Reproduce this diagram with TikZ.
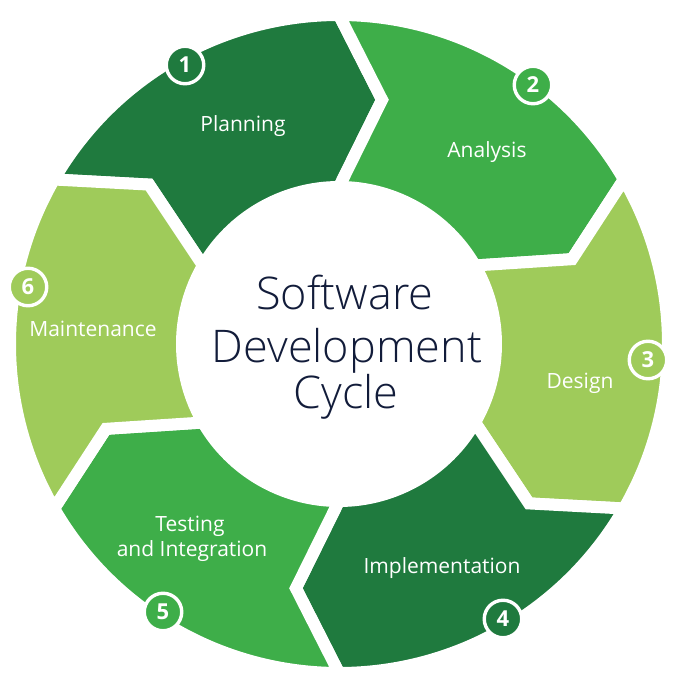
\documentclass[tikz,border=0pt]{standalone}
\usepackage{fontspec}
\setmainfont{Open Sans}
\IfFontExistsTF{Open Sans Light}{\newfontfamily\thinfont{Open Sans Light}}{\newfontfamily\thinfont{Open Sans}}
\definecolor{dkgreen}{RGB}{31,122,62}
\definecolor{mdgreen}{RGB}{62,174,73}
\definecolor{ltgreen}{RGB}{159,203,90}
\definecolor{navy}{RGB}{18,28,58}
\tikzset{
	seg/.style={draw=white, line width=12pt},
	numdot/.style={circle, draw=white, line width=3.4pt, minimum size=37.5pt, inner sep=0pt, text=white, font=\fontsize{22}{22}\selectfont\bfseries},
	lab/.style={text=white, anchor=base, font=\fontsize{21}{25}\selectfont},
	ttl/.style={text=navy, anchor=base, font=\thinfont\fontsize{45}{50}\selectfont},
}
\begin{document}
\begin{tikzpicture}[x=1pt, y=1pt]
		\useasboundingbox (-339, -344) rectangle (341, 344);
		\fill[white] (-339, -344) rectangle (341, 344);
		\filldraw[seg, fill=dkgreen] (150:157) -- (140:248) -- (150:329) arc[start angle=150, end angle=90, radius=329]
			-- (80:248) -- (90:157) arc[start angle=90, end angle=150, radius=157] -- cycle;
		\filldraw[seg, fill=mdgreen] (90:157) -- (80:248) -- (90:329) arc[start angle=90, end angle=30, radius=329]
			-- (20:248) -- (30:157) arc[start angle=30, end angle=90, radius=157] -- cycle;
		\filldraw[seg, fill=ltgreen] (30:157) -- (20:248) -- (30:329) arc[start angle=30, end angle=-30, radius=329]
			-- (-40:248) -- (-30:157) arc[start angle=-30, end angle=30, radius=157] -- cycle;
		\filldraw[seg, fill=dkgreen] (-30:157) -- (-40:248) -- (-30:329) arc[start angle=-30, end angle=-90, radius=329]
			-- (-100:248) -- (-90:157) arc[start angle=-90, end angle=-30, radius=157] -- cycle;
		\filldraw[seg, fill=mdgreen] (-90:157) -- (-100:248) -- (-90:329) arc[start angle=-90, end angle=-150, radius=329]
			-- (-160:248) -- (-150:157) arc[start angle=-150, end angle=-90, radius=157] -- cycle;
		\filldraw[seg, fill=ltgreen] (-150:157) -- (-160:248) -- (-150:329) arc[start angle=-150, end angle=-210, radius=329]
			-- (-220:248) -- (-210:157) arc[start angle=-210, end angle=-150, radius=157] -- cycle;
		\node[ttl] (t1) at (6, 34) {Software};
		\node[ttl] (t2) at (8, -18) {Development};
		\node[ttl] (t3) at (7, -64) {Cycle};
		\node[lab] (plan) at (-96, 212) {Planning};
		\node[lab] (anal) at (148, 186) {Analysis};
		\node[lab] (desg) at (241, -44) {Design};
		\node[lab] (impl) at (103, -229) {Implementation};
		\node[lab] (test) at (-149, -187) {Testing};
		\node[lab] (intg) at (-147, -212) {and Integration};
		\node[lab] (mant) at (-246, 7) {Maintenance};
		\node[numdot, fill=dkgreen] (n1) at (-154, 279) {1};
		\node[numdot, fill=mdgreen] (n2) at (194, 259) {2};
		\node[numdot, fill=ltgreen] (n3) at (309, -16) {3};
		\node[numdot, fill=dkgreen] (n4) at (164, -275) {4};
		\node[numdot, fill=mdgreen] (n5) at (-176, -268) {5};
		\node[numdot, fill=ltgreen] (n6) at (-311, 57) {6};
	\end{tikzpicture}
\end{document}
